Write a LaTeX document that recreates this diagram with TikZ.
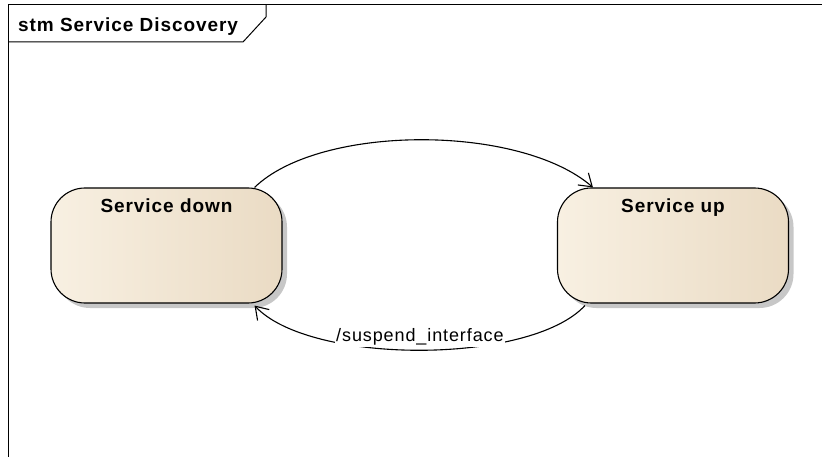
\documentclass[tikz,border=0pt]{standalone}
\usepackage{fontspec}
\setmainfont{Liberation Sans}
\newfontfamily\eafont[LetterSpace=5]{Liberation Sans}
\usetikzlibrary{arrows.meta,shadows}

\definecolor{stateL}{RGB}{248,240,226}
\definecolor{stateM}{RGB}{251,243,230}
\definecolor{stateR}{RGB}{234,219,196}

\tikzset{
  state/.style={draw,line width=1.1pt,rounded corners=34pt,
    minimum width=231pt,minimum height=115pt,
    left color=stateL,middle color=stateM,right color=stateR,
    font=\eafont\bfseries\fontsize{19}{22}\selectfont,
    text height=14pt,text depth=80pt,
    drop shadow={shadow xshift=5pt,shadow yshift=-5pt,fill=black!22,opacity=1}},
  trans/.style={line width=1.1pt,-{Straight Barb[length=12pt,width=16pt]}}
}

\begin{document}
\begin{tikzpicture}[x=1pt,y=-1pt]
                    \useasboundingbox (0,0) rectangle (822,457);
                    % Frame
                    \draw[line width=1pt] (822,5) -- (8,5) -- (8,457);
                    \draw[line width=1pt] (8,42) -- (243,42) -- (266,17) -- (266,5);
                    \node[anchor=base west,inner sep=0pt,font=\eafont\bfseries\fontsize{19}{22}\selectfont] (title) at (18,32) {stm Service Discovery};
                    % States
                    \node[state] (down) at (166.5,245.5) {Service down};
                    \node[state] (up) at (673,245.5) {Service up};
                    % Transitions
                    \draw[trans] ([xshift=-28pt]down.north east) .. controls (320,124) and (520,124) .. ([xshift=36pt]up.north west);
                    \draw[trans] ([xshift=28pt,yshift=-2pt]up.south west) .. controls (530,365) and (310,365) .. ([xshift=-28pt,yshift=-2pt]down.south east)
                      node[pos=0.5,yshift=13pt,fill=white,inner sep=1pt,font=\eafont\fontsize{18}{20}\selectfont] (lbl) {/suspend\_interface};
\end{tikzpicture}
\end{document}
